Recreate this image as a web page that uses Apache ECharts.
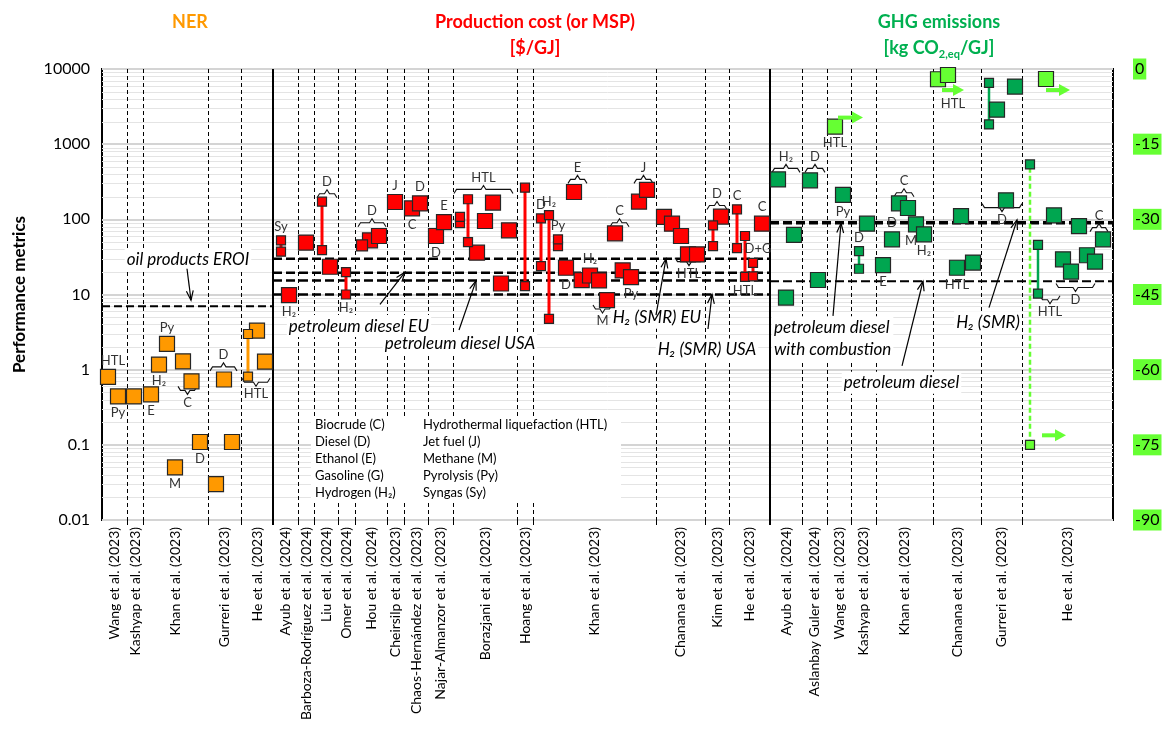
<!DOCTYPE html>
<html>
<head>
<meta charset="utf-8">
<title>Performance metrics</title>
<script src="https://cdn.jsdelivr.net/npm/echarts@6.0.0/dist/echarts.min.js"></script>
<style>
html, body { margin:0; padding:0; background:#fff; }
#chart { width:1164px; height:729px; }
</style>
</head>
<body>
<div id="chart"></div>
<script>
// ---------------- axes ----------------
const yTicks = [0.01, 0.1, 1, 10, 100, 1000, 10000];
const yTickLabels = ['0.01', '0.1', '1', '10', '100', '1000', '10000'];
const rightTicks = [0, -15, -30, -45, -60, -75, -90];
const xMax = 101.1;

// ---------------- study columns [label, start, end] ----------------
const nerStudies = [
  ['Wang et al. (2023)', 0, 2.5],
  ['Kashyap et al. (2023)', 2.5, 4.1],
  ['Khan et al. (2023)', 4.1, 10.6],
  ['Gurreri et al. (2023)', 10.6, 13.9],
  ['He et al. (2023)', 13.9, 17.1]
];
const costStudies = [
  ['Ayub et al. (2024)', 17.1, 19.6],
  ['Barboza-Rodríguez et al. (2024)', 19.6, 21.2],
  ['Liu et al. (2024)', 21.2, 23.6],
  ['Omer et al. (2024)', 23.6, 25.3],
  ['Hou et al. (2024)', 25.3, 28.5],
  ['Cheirsilp et al. (2023)', 28.5, 30.2],
  ['Chaos-Hernández et al. (2023)', 30.2, 32.6],
  ['Najar-Almanzor et al. (2023)', 32.6, 35.1],
  ['Borazjani et al. (2023)', 35.1, 41.5],
  ['Hoang et al. (2023)', 41.5, 43.1],
  ['Khan et al. (2023)', 43.1, 55.4],
  ['Chanana et al. (2023)', 55.4, 60.3],
  ['Kim et al. (2023)', 60.3, 62.7],
  ['He et al. (2023)', 62.7, 66.8]
];
const ghgStudies = [
  ['Ayub et al. (2024)', 66.8, 70.0],
  ['Aslanbay Guler et al. (2024)', 70.0, 72.5],
  ['Wang et al. (2023)', 72.5, 74.9],
  ['Kashyap et al. (2023)', 74.9, 77.4],
  ['Khan et al. (2023)', 77.4, 83.1],
  ['Chanana et al. (2023)', 83.1, 87.9],
  ['Gurreri et al. (2023)', 87.9, 92.0],
  ['He et al. (2023)', 92.0, 101.1]
];
const sectionDividers = [17.1, 66.8];

// ---------------- NER ----------------
const nerPoints = [
  [0.6, 0.8, 'HTL', 'top'],
  [1.6, 0.44, 'Py', 'bottom'],
  [3.2, 0.44],
  [4.9, 0.47, 'E', 'bottom'],
  [5.7, 1.17, 'H₂', 'bottom'],
  [6.5, 2.2, 'Py', 'top'],
  [7.3, 0.05, 'M', 'bottom'],
  [8.1, 1.29],
  [8.95, 0.70],
  [9.8, 0.109, 'D', 'bottom'],
  [11.4, 0.03],
  [12.2, 0.74],
  [13.0, 0.109],
  [15.5, 3.3],
  [16.3, 1.28]
];
const nerRanges = [[14.6, 0.81, 2.98]];
const nerBraces = [
  [7.6, 9.5, 0.53, 'below', 'C'],
  [10.8, 13.5, 1.09, 'above', 'D'],
  [14.0, 16.8, 0.68, 'below', 'HTL']
];
const nerRef = [[0, 17.1, 7]];

// ---------------- Production cost ----------------
const costPoints = [
  [18.7, 9.8, 'H₂', 'bottom'],
  [20.4, 49],
  [22.8, 23.4],
  [26.8, 52.5],
  [27.7, 60],
  [29.3, 170, 'J', 'top'],
  [31.0, 140, 'C', 'bottom'],
  [31.8, 163, 'D', 'top'],
  [33.4, 60, 'D', 'bottom'],
  [34.2, 92, 'E', 'top'],
  [37.5, 36],
  [38.3, 95],
  [39.1, 167],
  [39.9, 14.0],
  [40.7, 71.4],
  [46.4, 22.7, 'D', 'bottom'],
  [47.2, 231],
  [47.97, 15.5],
  [48.8, 17.9, 'H₂', 'top'],
  [49.7, 15.4],
  [50.5, 8.4],
  [51.3, 65],
  [52.07, 20.9],
  [52.9, 17.0, 'Py', 'bottom'],
  [53.7, 172],
  [54.5, 246],
  [56.2, 107.5],
  [57.0, 87.5],
  [57.9, 60],
  [58.6, 34.2],
  [59.5, 34.2],
  [61.9, 108.5],
  [66.0, 87.5, 'C', 'top']
];
const costMidPoints = [[26.0, 45]];
const costRanges = [
  [17.9, 37.1, 52.5, 'Sy', 'top'],
  [22.0, 39, 172],
  [24.4, 10, 19.9, 'H₂', 'bottom'],
  [35.8, 89, 107.5],
  [36.6, 49.9, 185],
  [42.3, 12.9, 264],
  [43.9, 23.9, 103, 'D', 'top'],
  [44.7, 4.74, 114, 'H₂', 'top'],
  [45.6, 44.1, 54.1, 'Py', 'top'],
  [61.1, 44, 83],
  [63.5, 41.5, 136, 'C', 'top'],
  [64.3, 17.2, 60, 'HTL', 'bottom'],
  [65.1, 17.4, 26.4, 'D+G', 'top']
];
const costBraces = [
  [21.5, 23.5, 219, 'above', 'D'],
  [25.6, 28.4, 90, 'above', 'D'],
  [35.2, 41.1, 250, 'above', 'HTL'],
  [46.6, 48.5, 340, 'above', 'E'],
  [49.1, 51.0, 6.4, 'below', 'M'],
  [50.8, 52.7, 90, 'above', 'C'],
  [53.2, 55.1, 340, 'above', 'J'],
  [57.3, 60.1, 27.4, 'below', 'HTL'],
  [60.5, 62.5, 153, 'above', 'D']
];
const costRef = [[17.1, 66.8, 30], [17.1, 66.8, 19.5], [17.1, 66.8, 15.4], [17.1, 66.8, 10]];

// ---------------- GHG emissions ----------------
const ghgPoints = [
  [67.6, 340], [68.4, 9.1], [69.2, 62], [70.8, 330], [71.6, 15.6],
  [74.1, 211, 'Py', 'bottom'],
  [76.5, 87.5],
  [78.1, 24.6, 'E', 'bottom'],
  [79.0, 54.1, 'D', 'top'],
  [79.7, 163], [80.6, 141.6],
  [81.4, 85.8, 'M', 'bottom'],
  [82.2, 63.1, 'H₂', 'bottom'],
  [85.5, 22.7, 'HTL', 'bottom'],
  [85.9, 110],
  [87.1, 26.6],
  [89.5, 2880], [91.3, 5840], [90.4, 179],
  [95.2, 113], [96.1, 29.4], [96.9, 20.2], [97.7, 81.4], [98.5, 33.3], [99.3, 27.4], [100.1, 54.2]
];
const ghgRanges = [
  [75.7, 22, 37.8, 'D', 'top'],
  [88.7, 1828, 6530],
  [93.6, 10.3, 45.6]
];
// negative emissions, read on the right axis
const ghgNegPoints = [
  [73.3, -11.5, 'HTL', 'bottom'],
  [83.6, -2.05],
  [84.6, -1.2, 'HTL', 'bottom'],
  [94.4, -2.0]
];
// range from a positive value (left axis) down to a negative value (right axis)
const ghgMixedRanges = [[92.8, 537, -75]];
const ghgRightArrows = [[73.6, 76.1, -9.7], [84.0, 86.2, -4.2], [94.4, 96.8, -4.2], [94.0, 96.4, -73.1]];
const ghgBraces = [
  [67.0, 69.8, 476, 'above', 'H₂'],
  [70.3, 72.3, 476, 'above', 'D'],
  [79.2, 81.2, 226, 'above', 'C'],
  [88.0, 92.0, 143, 'below', 'D'],
  [93.8, 95.8, 8.5, 'below', 'HTL'],
  [95.4, 99.3, 12.4, 'below', 'D'],
  [98.8, 100.6, 77.6, 'above', 'C']
];
const ghgRef = [[66.8, 101.1, 90], [66.8, 101.1, 15]];

// ---------------- annotations ----------------
const annotations = [
  [8.6, 29.3, 'oil products EROI', 'center'],
  [25.7, 3.8, 'petroleum diesel EU', 'center'],
  [35.8, 2.25, 'petroleum diesel USA', 'center'],
  [55.5, 4.9, 'H₂ (SMR) EU', 'center'],
  [60.5, 1.86, 'H₂ (SMR) USA', 'center'],
  [67.0, 2.62, 'petroleum diesel\nwith combustion', 'left'],
  [79.95, 0.67, 'petroleum diesel', 'center'],
  [88.6, 4.26, 'H₂ (SMR)', 'center']
];
const annotationArrows = [
  [8.5, 22, 8.9, 8.4],
  [27.8, 7.4, 30.3, 19.8],
  [35.7, 3.37, 37.4, 15.2],
  [55.4, 5.3, 56.4, 30.0],
  [60.6, 3.47, 61.0, 10.1],
  [73.1, 5.2, 73.9, 88.5],
  [80.0, 1.12, 82.1, 15.0],
  [88.7, 6.7, 91.5, 98]
];
const legendCol1 = ['Biocrude (C)', 'Diesel (D)', 'Ethanol (E)', 'Gasoline (G)', 'Hydrogen (H₂)'];
const legendCol2 = ['Hydrothermal liquefaction (HTL)', 'Jet fuel (J)', 'Methane (M)', 'Pyrolysis (Py)', 'Syngas (Sy)'];

// ======================================================================
const FONT = 'Lato, "Open Sans", sans-serif';
const COL = { ner: '#FF9900', cost: '#FF0000', ghg: '#00A650', ghgNeg: '#66FF33', ghgTitle: '#00B050' };
const labelNudges = { 'ner:0.6': [5, 0], 'cost:65.1': [5, 0], 'ghg:81.4': [-5, 0], 'ghgNeg:84.6': [5, 12] };
const yMin = yTicks[0], yMax = yTicks[yTicks.length - 1];
const rMin = Math.min(...rightTicks), rMax = Math.max(...rightTicks);
function rightToLeft(r) {
  const f = (r - rMin) / (rMax - rMin);
  return Math.pow(10, Math.log10(yMin) + f * (Math.log10(yMax) - Math.log10(yMin)));
}
const minorValues = [];
yTicks.slice(0, -1).forEach(t => { for (let k = 2; k <= 9; k++) minorValues.push(t * k); });
const allStudies = nerStudies.concat(costStudies, ghgStudies);
const separators = [];
allStudies.forEach(s => { if (s[2] < xMax - 0.01 && sectionDividers.indexOf(s[2]) < 0) separators.push(s[2]); });

function toItem(x, v, lab, pos, key) {
  const it = { value: [x, v] };
  if (lab) {
    const n = labelNudges[key + ':' + x] || [0, 0];
    it.label = { show: true, formatter: lab, position: pos || 'top', offset: n };
  }
  return it;
}
function squares(items, color, size, yAxisIndex) {
  return {
    type: 'scatter', yAxisIndex: yAxisIndex, symbol: 'rect', symbolSize: size, z: 6, silent: true,
    itemStyle: { color: color, borderColor: '#262626', borderWidth: 1.2, opacity: 1 },
    label: { color: '#333', fontSize: 13, fontFamily: FONT, distance: 2 },
    emphasis: { disabled: true },
    data: items
  };
}
function pointItems(points, key) { return points.map(p => toItem(p[0], p[1], p[2], p[3], key)); }
function rangeEndItems(ranges, key) {
  const out = [];
  ranges.forEach(r => {
    out.push(toItem(r[0], r[1], r[4] === 'bottom' ? r[3] : null, 'bottom', key));
    out.push(toItem(r[0], r[2], r[4] !== 'bottom' ? r[3] : null, 'top', key));
  });
  return out;
}
function rangeLines(ranges, color, width, dash) {
  return {
    type: 'custom', yAxisIndex: 0, z: 5, silent: true,
    data: ranges.map(r => [r[0], r[1], r[2]]),
    renderItem: function (params, api) {
      const a = api.coord([api.value(0), api.value(1)]);
      const b = api.coord([api.value(0), api.value(2)]);
      return { type: 'line', shape: { x1: a[0], y1: a[1], x2: b[0], y2: b[1] },
        style: { stroke: color, lineWidth: width, lineDash: dash || null } };
    }
  };
}
function braceSeries(braces) {
  return {
    type: 'custom', yAxisIndex: 0, z: 4, silent: true,
    data: braces.map(b => [b[0], b[2]]),
    renderItem: function (params, api) {
      const b = braces[params.dataIndex];
      const p1 = api.coord([b[0], b[2]]), p2 = api.coord([b[1], b[2]]);
      const y = p1[1], x1 = p1[0], x2 = p2[0], xm = (x1 + x2) / 2;
      const s = b[3] === 'above' ? -1 : 1, h = 4;
      const pts = [[x1, y - s * h], [x1 + 2.5, y], [xm - 2.5, y], [xm, y + s * h], [xm + 2.5, y], [x2 - 2.5, y], [x2, y - s * h]];
      return { type: 'group', children: [
        { type: 'polyline', shape: { points: pts }, style: { stroke: '#111', fill: 'none', lineWidth: 1.1 } },
        { type: 'text', x: xm, y: y + s * (h + 8), style: { text: b[4], fill: '#333', fontSize: 13, fontFamily: FONT, align: 'center', verticalAlign: 'middle' } }
      ] };
    }
  };
}
function refLineSeries(lines, widths, dash) {
  return {
    type: 'custom', yAxisIndex: 0, z: 3, silent: true,
    data: lines.map(l => [l[0], l[2]]),
    renderItem: function (params, api) {
      const l = lines[params.dataIndex];
      const a = api.coord([l[0], l[2]]), b = api.coord([l[1], l[2]]);
      return { type: 'line', shape: { x1: a[0], y1: a[1], x2: b[0], y2: b[1] },
        style: { stroke: '#000', lineWidth: widths[params.dataIndex], lineDash: dash } };
    }
  };
}

const series = [];
// minor grid lines
series.push({
  type: 'custom', yAxisIndex: 0, z: 0, silent: true,
  data: minorValues.map(v => [0, v]),
  renderItem: function (params, api) {
    const v = minorValues[params.dataIndex];
    const a = api.coord([0, v]), b = api.coord([xMax, v]);
    const y = Math.round(a[1]) + 0.5;
    return { type: 'line', shape: { x1: a[0], y1: y, x2: b[0], y2: y }, style: { stroke: '#e4e4e4', lineWidth: 1 } };
  }
});
// study separators + ticks
series.push({
  type: 'custom', yAxisIndex: 0, z: 1, silent: true,
  data: separators.map(x => [x, 1]),
  renderItem: function (params, api) {
    const x = separators[params.dataIndex];
    const t = api.coord([x, yMax]), b = api.coord([x, yMin]);
    const px = Math.round(t[0]) + 0.5;
    return { type: 'group', children: [
      { type: 'line', shape: { x1: px, y1: t[1], x2: px, y2: b[1] }, style: { stroke: '#000', lineWidth: 1, lineDash: [4, 3] } },
      { type: 'line', shape: { x1: px, y1: b[1], x2: px, y2: b[1] + 5 }, style: { stroke: '#000', lineWidth: 1 } }
    ] };
  }
});
// section dividers
series.push({
  type: 'custom', yAxisIndex: 0, z: 6, silent: true,
  data: sectionDividers.map(x => [x, 1]),
  renderItem: function (params, api) {
    const x = sectionDividers[params.dataIndex];
    const t = api.coord([x, yMax]), b = api.coord([x, yMin]);
    return { type: 'line', shape: { x1: t[0], y1: t[1], x2: b[0], y2: b[1] + 5 }, style: { stroke: '#000', lineWidth: 2 } };
  }
});
// study labels
series.push({
  type: 'custom', yAxisIndex: 0, z: 2, silent: true, clip: false,
  data: allStudies.map(s => [(s[1] + s[2]) / 2, 1]),
  renderItem: function (params, api) {
    const s = allStudies[params.dataIndex];
    const p = api.coord([(s[1] + s[2]) / 2, yMin]);
    return { type: 'text', x: p[0], y: p[1] + 7, rotation: Math.PI / 2,
      style: { text: s[0], fill: '#000', fontSize: 14, fontFamily: FONT, align: 'right', verticalAlign: 'middle' } };
  }
});
// annotation texts
series.push({
  type: 'custom', yAxisIndex: 0, z: 2, silent: true,
  data: annotations.map(a => [a[0], a[1]]),
  renderItem: function (params, api) {
    const a = annotations[params.dataIndex];
    const p = api.coord([a[0], a[1]]);
    return { type: 'text', x: p[0], y: p[1],
      style: { text: a[2], fill: '#000', fontSize: 17, fontStyle: 'italic', fontFamily: FONT, align: a[3], verticalAlign: 'middle',
        backgroundColor: '#fff', padding: [0, 2], lineHeight: 22 } };
  }
});
// annotation arrows
series.push({
  type: 'custom', yAxisIndex: 0, z: 7, silent: true,
  data: annotationArrows.map(a => [a[0], a[1]]),
  renderItem: function (params, api) {
    const a = annotationArrows[params.dataIndex];
    const p1 = api.coord([a[0], a[1]]), p2 = api.coord([a[2], a[3]]);
    const ang = Math.atan2(p2[1] - p1[1], p2[0] - p1[0]);
    const L = 10, s = 0.35;
    const h1 = [p2[0] - L * Math.cos(ang - s), p2[1] - L * Math.sin(ang - s)];
    const h2 = [p2[0] - L * Math.cos(ang + s), p2[1] - L * Math.sin(ang + s)];
    return { type: 'group', children: [
      { type: 'line', shape: { x1: p1[0], y1: p1[1], x2: p2[0], y2: p2[1] }, style: { stroke: '#000', lineWidth: 1.2 } },
      { type: 'polyline', shape: { points: [h1, p2, h2] }, style: { stroke: '#000', fill: 'none', lineWidth: 1.2 } }
    ] };
  }
});
// reference lines
series.push(refLineSeries(nerRef, [2], [8, 4]));
series.push(refLineSeries(costRef, [2.5, 2.5, 2.5, 2.5], [9, 4]));
series.push(refLineSeries(ghgRef, [3.5, 2.2], [9, 4]));
// braces
series.push(braceSeries(nerBraces));
series.push(braceSeries(costBraces));
series.push(braceSeries(ghgBraces));
// range lines
series.push(rangeLines(nerRanges, COL.ner, 3));
series.push(rangeLines(costRanges, COL.cost, 3));
series.push(rangeLines(ghgRanges, COL.ghg, 2.5));
series.push(rangeLines(ghgMixedRanges.map(r => [r[0], rightToLeft(r[2]), r[1]]), COL.ghgNeg, 2.5, [5, 3]));
// squares
series.push(squares(pointItems(nerPoints, 'ner'), COL.ner, 15, 0));
series.push(squares(rangeEndItems(nerRanges, 'ner'), COL.ner, 9, 0));
series.push(squares(pointItems(costPoints, 'cost'), COL.cost, 15, 0));
series.push(squares(pointItems(costMidPoints, 'cost'), COL.cost, 11, 0));
series.push(squares(rangeEndItems(costRanges, 'cost'), COL.cost, 9, 0));
series.push(squares(pointItems(ghgPoints, 'ghg'), COL.ghg, 15, 0));
series.push(squares(rangeEndItems(ghgRanges, 'ghg'), COL.ghg, 9, 0));
series.push(squares(ghgMixedRanges.map(r => toItem(r[0], r[1])), COL.ghg, 9, 0));
series.push(squares(ghgMixedRanges.map(r => toItem(r[0], r[2])), COL.ghgNeg, 9, 1));
series.push(squares(pointItems(ghgNegPoints, 'ghgNeg'), COL.ghgNeg, 15, 1));
// right-axis arrows
series.push({
  type: 'custom', yAxisIndex: 1, z: 7, silent: true,
  data: ghgRightArrows.map(a => [a[0], a[2]]),
  renderItem: function (params, api) {
    const a = ghgRightArrows[params.dataIndex];
    const p1 = api.coord([a[0], a[2]]), p2 = api.coord([a[1], a[2]]);
    const hl = 11, hw = 6;
    return { type: 'group', children: [
      { type: 'line', shape: { x1: p1[0], y1: p1[1], x2: p2[0] - hl + 1, y2: p2[1] }, style: { stroke: COL.ghgNeg, lineWidth: 4 } },
      { type: 'polygon', shape: { points: [[p2[0], p2[1]], [p2[0] - hl, p2[1] - hw], [p2[0] - hl, p2[1] + hw]] }, style: { fill: COL.ghgNeg } }
    ] };
  }
});

function tickLabel(v) {
  for (let i = 0; i < yTicks.length; i++) {
    if (Math.abs(Math.log10(v) - Math.log10(yTicks[i])) < 1e-6) return yTickLabels[i];
  }
  return '';
}

const LZ = 200;
const legendChildren = [{ type: 'rect', z: LZ, shape: { x: 0, y: 0, width: 310, height: 86 }, style: { fill: '#fff' } }];
legendCol1.forEach((t, i) => legendChildren.push({ type: 'text', z: LZ + 1, x: 4, y: 8 + i * 16.9, style: { text: t, fill: '#000', fontSize: 13, fontFamily: FONT, verticalAlign: 'middle' } }));
legendCol2.forEach((t, i) => legendChildren.push({ type: 'text', z: LZ + 1, x: 112, y: 8 + i * 16.9, style: { text: t, fill: '#000', fontSize: 13, fontFamily: FONT, verticalAlign: 'middle' } }));

const titleStyle = { fontSize: 18, fontWeight: 'bold', fontFamily: FONT, align: 'center', verticalAlign: 'middle' };
const chart = echarts.init(document.getElementById('chart'));
chart.setOption({
  backgroundColor: '#fff',
  animation: false,
  grid: { left: 102, top: 69, right: 51, bottom: 209, show: true, borderColor: '#000', borderWidth: 2, backgroundColor: '#fff', containLabel: false, outerBoundsMode: 'none' },
  xAxis: { type: 'value', min: 0, max: xMax, show: false },
  yAxis: [
    {
      type: 'log', logBase: 10, min: yMin, max: yMax,
      name: 'Performance metrics', nameLocation: 'middle', nameGap: 74,
      nameTextStyle: { fontSize: 17, fontWeight: 'bold', fontFamily: FONT, color: '#000' },
      axisLine: { show: false }, axisTick: { show: false },
      axisLabel: { formatter: tickLabel, fontSize: 16, fontFamily: FONT, color: '#000', margin: 12, showMinLabel: true, showMaxLabel: true },
      splitLine: { show: true, lineStyle: { color: '#d4d4d4', width: 2 } }
    },
    {
      type: 'value', position: 'right', min: rMin, max: rMax, interval: 15,
      axisLine: { show: false }, axisTick: { show: false }, splitLine: { show: false },
      axisLabel: { fontSize: 16, fontFamily: FONT, color: '#000', margin: 20, backgroundColor: COL.ghgNeg, padding: [3, 2, 2, 2], showMinLabel: true, showMaxLabel: true }
    }
  ],
  graphic: [
    { type: 'text', x: 190, y: 22, style: Object.assign({ text: 'NER', fill: COL.ner }, titleStyle) },
    { type: 'text', x: 535, y: 22, style: Object.assign({ text: 'Production cost (or MSP)', fill: COL.cost }, titleStyle) },
    { type: 'text', x: 535, y: 48, style: Object.assign({ text: '[$/GJ]', fill: COL.cost }, titleStyle) },
    { type: 'text', x: 939, y: 22, style: Object.assign({ text: 'GHG emissions', fill: COL.ghgTitle }, titleStyle) },
    { type: 'text', x: 939, y: 48, style: Object.assign({ text: '[kg CO{s|2,eq}/GJ]', fill: COL.ghgTitle, lineHeight: 24,
        rich: { s: { fontSize: 11, fontWeight: 'bold', fontFamily: FONT, fill: COL.ghgTitle, verticalAlign: 'bottom', lineHeight: 24 } } }, titleStyle) },
    { type: 'group', x: 311, y: 417, z: LZ, children: legendChildren }
  ],
  series: series
});
</script>
</body>
</html>
